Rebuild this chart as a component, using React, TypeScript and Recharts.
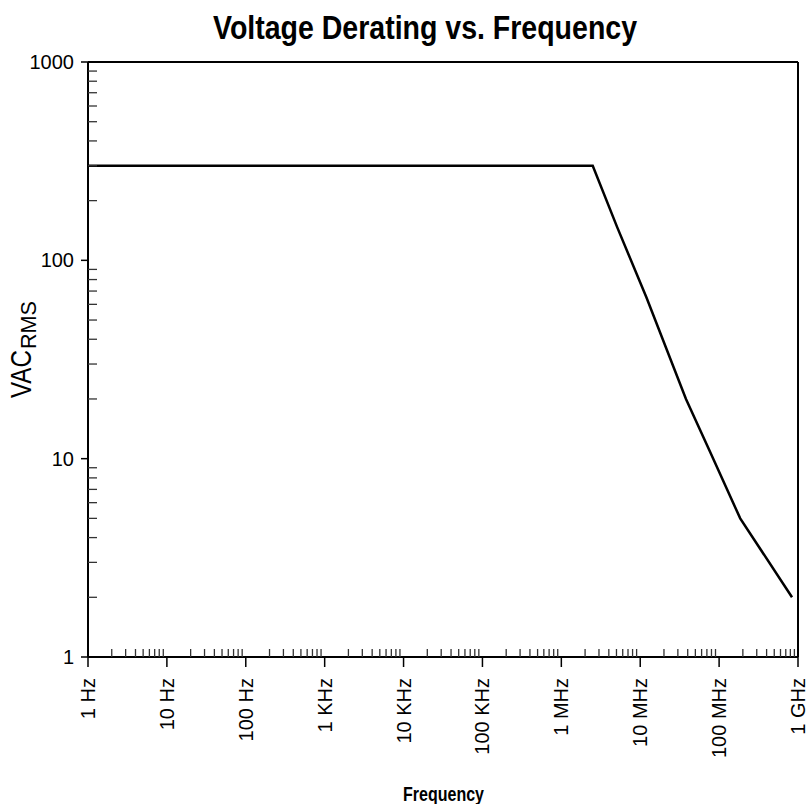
import { LineChart, Line, XAxis, YAxis, ReferenceLine } from "recharts";

// curve (Hz, V rms)
const freqHz = [1, 2.5e6, 5.1e6, 1.2e7, 3.8e7, 7.7e7, 1.85e8, 8.4e8];
const vacRms = [300, 300, 147, 65, 20, 10.8, 5, 2];

const xMajor = [1, 10, 100, 1e3, 1e4, 1e5, 1e6, 1e7, 1e8, 1e9];
const xTickLabels = ["1 Hz", "10 Hz", "100 Hz", "1 KHz", "10 KHz", "100 KHz", "1 MHz", "10 MHz", "100 MHz", "1 GHz"];
const yMajor = [1, 10, 100, 1000];
const yTickLabels = ["1", "10", "100", "1000"];
const minorSteps = [2, 3, 4, 5, 6, 7, 8, 9];

const data = freqHz.map((f, i) => ({ f, v: vacRms[i] }));

const withMinors = (majors: number[]) => {
  const out: number[] = [];
  majors.forEach((m, i) => {
    out.push(m);
    if (i < majors.length - 1) minorSteps.forEach((k) => out.push(k * m));
  });
  return out;
};
const xTicks = withMinors(xMajor);
const yTicks = withMinors(yMajor);

const FONT = "'Liberation Sans', Arial, Helvetica, sans-serif";

const XTick = (props: any) => {
  const { x, y, payload } = props;
  const idx = xMajor.findIndex((m) => Math.abs(m - payload.value) / m < 1e-6);
  if (idx < 0) {
    return <line x1={x} x2={x} y1={y} y2={y - 8} stroke="#333" strokeWidth={1.3} />;
  }
  const ty = y + 21;
  return (
    <g>
      <line x1={x} x2={x} y1={y} y2={y + 10} stroke="#000" strokeWidth={1.5} />
      <text
        x={x}
        y={ty}
        transform={`rotate(-90, ${x}, ${ty})`}
        textAnchor="end"
        dominantBaseline="central"
        fontFamily={FONT}
        fontSize={20}
        fill="#000"
      >
        {xTickLabels[idx]}
      </text>
    </g>
  );
};

const YTick = (props: any) => {
  const { x, y, payload } = props;
  const idx = yMajor.findIndex((m) => Math.abs(m - payload.value) / m < 1e-6);
  if (idx < 0) {
    return <line x1={x} x2={x + 9} y1={y} y2={y} stroke="#333" strokeWidth={1.3} />;
  }
  return (
    <g>
      <line x1={x - 7} x2={x} y1={y} y2={y} stroke="#000" strokeWidth={1.5} />
      <text x={x - 14} y={y} textAnchor="end" dominantBaseline="central" fontFamily={FONT} fontSize={20} fill="#000">
        {yTickLabels[idx]}
      </text>
    </g>
  );
};

export default function App() {
  return (
    <div style={{ position: "absolute", left: 0, top: 0, width: 808, height: 804, background: "#fff" }}>
      <LineChart width={808} height={804} data={data} margin={{ top: 62, right: 10, bottom: 0, left: 0 }}>
        <XAxis
          dataKey="f"
          type="number"
          scale="log"
          domain={[1, 1e9]}
          ticks={xTicks}
          interval={0}
          height={147}
          tickSize={0}
          tickMargin={0}
          tick={<XTick />}
          axisLine={{ stroke: "#000", strokeWidth: 2 }}
          allowDataOverflow
        />
        <YAxis
          type="number"
          scale="log"
          domain={[1, 1000]}
          ticks={yTicks}
          interval={0}
          width={88}
          tickSize={0}
          tickMargin={0}
          tick={<YTick />}
          axisLine={{ stroke: "#000", strokeWidth: 2 }}
          allowDataOverflow
        />
        <ReferenceLine y={1000} stroke="#000" strokeWidth={2} />
        <ReferenceLine x={1e9} stroke="#000" strokeWidth={2} />
        <Line dataKey="v" type="linear" stroke="#000" strokeWidth={2.5} dot={false} isAnimationActive={false} />
      </LineChart>
      <svg width={808} height={804} style={{ position: "absolute", left: 0, top: 0, pointerEvents: "none" }}>
        <text
          x={213}
          y={39}
          textLength={424}
          lengthAdjust="spacingAndGlyphs"
          fontFamily={FONT}
          fontWeight="bold"
          fontSize={33}
          fill="#000"
        >
          Voltage Derating vs. Frequency
        </text>
        <text
          x={403}
          y={801}
          textLength={81}
          lengthAdjust="spacingAndGlyphs"
          fontFamily={FONT}
          fontWeight="bold"
          fontSize={21}
          fill="#000"
        >
          Frequency
        </text>
        <g transform="rotate(-90, 31, 398)">
          <text x={31} y={398} textLength={48} lengthAdjust="spacingAndGlyphs" fontFamily={FONT} fontSize={30} fill="#000">
            VAC
          </text>
          <text x={80} y={403} textLength={48} lengthAdjust="spacingAndGlyphs" fontFamily={FONT} fontSize={22} fill="#000">
            RMS
          </text>
        </g>
      </svg>
    </div>
  );
}
